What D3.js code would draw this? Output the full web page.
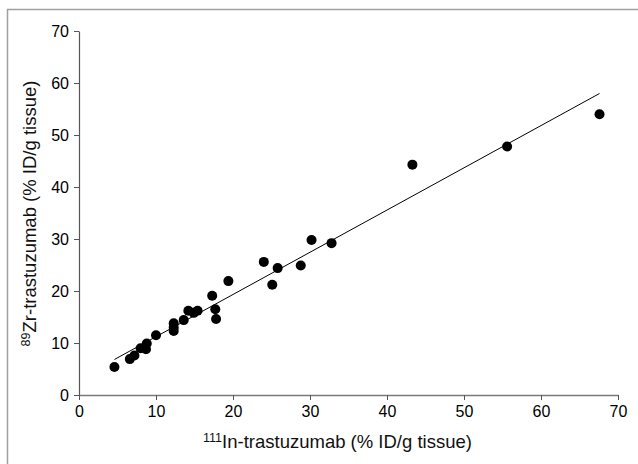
<!DOCTYPE html>
<html>
<head>
<meta charset="utf-8">
<script src="https://cdn.jsdelivr.net/npm/d3@7"></script>
<style>
  html, body { margin: 0; padding: 0; background: #fff; }
  svg { display: block; font-family: Arial, "Liberation Sans", sans-serif; }
  .tick text { font-size: 16px; fill: #000; font-family: Arial, "Liberation Sans", sans-serif; }
</style>
</head>
<body>
<svg id="chart" width="638" height="464"></svg>
<script>
// ---- data ----
const inValues = [4.6, 6.6, 7.2, 8.0, 8.7, 8.8, 10.0, 12.3, 12.3, 12.3, 13.6, 14.2, 14.9, 15.4, 17.3, 17.7, 17.8, 19.4, 24.0, 25.1, 25.8, 28.8, 30.2, 32.8, 43.3, 55.6, 67.6];
const zrValues = [5.4, 6.9, 7.6, 9.0, 8.8, 9.9, 11.5, 12.3, 13.0, 13.8, 14.4, 16.2, 15.8, 16.2, 19.1, 16.5, 14.6, 21.9, 25.6, 21.2, 24.4, 24.9, 29.8, 29.2, 44.3, 47.8, 54.0];
const fitSlope = 0.812;
const fitIntercept = 3.09;
const fitRange = [4.6, 67.6];
const xTicks = [0, 10, 20, 30, 40, 50, 60, 70];
const yTicks = [0, 10, 20, 30, 40, 50, 60, 70];

// ---- layout ----
const svg = d3.select("#chart");
const x = d3.scaleLinear().domain([0, 70]).range([79, 618]);
const y = d3.scaleLinear().domain([0, 70]).range([395, 31]);

// outer frame (top and left edges visible)
svg.append("path")
  .attr("d", "M7.5,464 L7.5,9.5 L638,9.5")
  .attr("fill", "none").attr("stroke", "#a0a0a0").attr("stroke-width", 1.5);

// x axis
const gx = svg.append("g").attr("transform", `translate(0,${y(0)})`)
  .call(d3.axisBottom(x).tickValues(xTicks).tickSize(5).tickSizeOuter(0).tickPadding(6));
gx.select(".domain").attr("stroke", "#7a7a7a").attr("stroke-width", 1.5);
gx.selectAll(".tick line").attr("stroke", "#555");

// y axis
const gy = svg.append("g").attr("transform", `translate(${x(0)},0)`)
  .call(d3.axisLeft(y).tickValues(yTicks).tickSize(5).tickSizeOuter(0).tickPadding(5));
gy.select(".domain").attr("stroke", "#555").attr("stroke-width", 1.2);
gy.selectAll(".tick line").attr("stroke", "#555");

// regression line
svg.append("line")
  .attr("x1", x(fitRange[0])).attr("y1", y(fitSlope * fitRange[0] + fitIntercept))
  .attr("x2", x(fitRange[1])).attr("y2", y(fitSlope * fitRange[1] + fitIntercept))
  .attr("stroke", "#000").attr("stroke-width", 1);

// points
svg.append("g").selectAll("circle")
  .data(d3.zip(inValues, zrValues))
  .join("circle")
  .attr("cx", d => x(d[0])).attr("cy", d => y(d[1]))
  .attr("r", 5).attr("fill", "#000");

// x label
const xl = svg.append("text")
  .attr("x", 337.5).attr("y", 448)
  .attr("text-anchor", "middle").style("font-size", "18.5px").attr("fill", "#111");
xl.append("tspan").style("font-size", "12.5px").attr("dy", -6).text("111");
xl.append("tspan").attr("dy", 6).text("In-trastuzumab (% ID/g tissue)");

// y label
const yl = svg.append("text")
  .attr("transform", "translate(36,213.5) rotate(-90)")
  .attr("text-anchor", "middle").style("font-size", "18.5px").attr("fill", "#111");
yl.append("tspan").style("font-size", "12.5px").attr("dy", -6).text("89");
yl.append("tspan").attr("dy", 6).text("Zr-trastuzumab (% ID/g tissue)");
</script>
</body>
</html>
